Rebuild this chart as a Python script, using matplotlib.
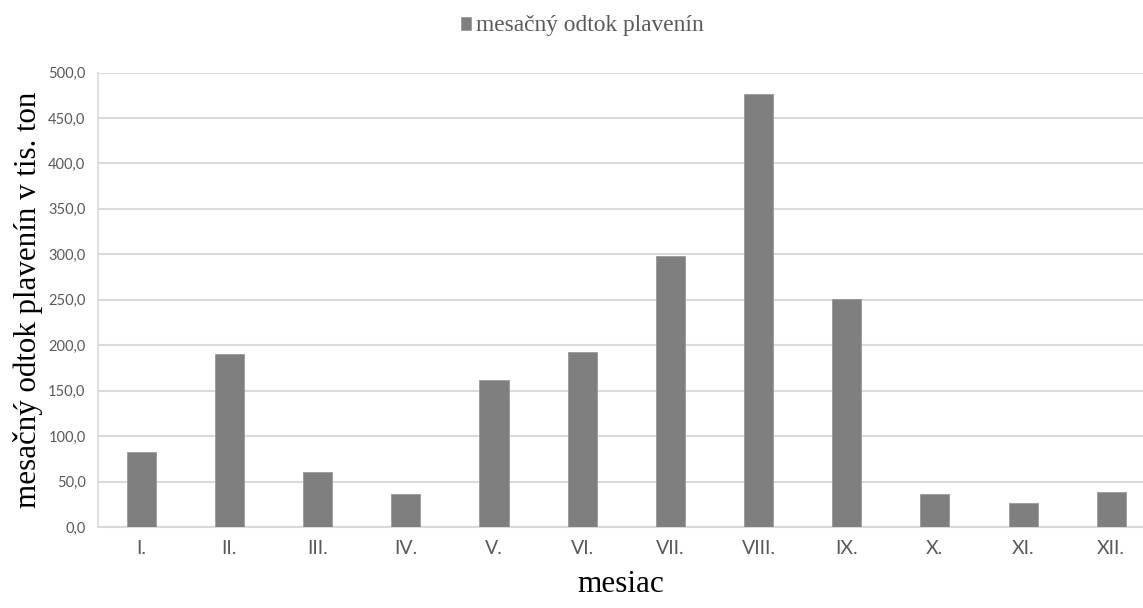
import matplotlib
matplotlib.use("Agg")
import matplotlib.pyplot as plt
from matplotlib.ticker import FuncFormatter
from matplotlib.patches import Patch

months = ["I.", "II.", "III.", "IV.", "V.", "VI.", "VII.", "VIII.", "IX.", "X.", "XI.", "XII."]
sediment = [82, 190, 61, 36, 162, 193, 298, 476, 251, 36, 26, 39]
y_ticks = [0, 50, 100, 150, 200, 250, 300, 350, 400, 450, 500]
series_name = "mesačný odtok plavenín"
y_title = "mesačný odtok plavenín v tis. ton"
x_title = "mesiac"

bar_color = "#7f7f7f"
grid_color = "#d9d9d9"
text_gray = "#595959"
serif = ["Liberation Serif", "DejaVu Serif"]
sans = ["Lato", "DejaVu Sans"]

fig = plt.figure(figsize=(11.43, 6.08), dpi=100)
ax = fig.add_axes([98 / 1143, (608 - 527) / 608, 1 - 98 / 1143, (527 - 72.5) / 608])

x = list(range(len(months)))
ax.bar(x, sediment, width=0.33, color=bar_color, edgecolor="#9a9a9a", linewidth=0.6, zorder=3)

ax.set_ylim(0, 500)
ax.set_xlim(-0.49, 11.36)
ax.set_yticks(y_ticks)
ax.yaxis.set_major_formatter(FuncFormatter(lambda v, p: f"{v:.1f}".replace(".", ",")))
ax.set_xticks(x)
ax.set_xticklabels(months)

ax.grid(axis="y", color=grid_color, linewidth=1.5, zorder=0)
ax.set_axisbelow(True)
for side in ("top", "right"):
    ax.spines[side].set_visible(False)
ax.spines["left"].set_color(grid_color)
ax.spines["left"].set_linewidth(1.2)
ax.spines["bottom"].set_color(grid_color)
ax.spines["bottom"].set_linewidth(1.5)

ax.tick_params(axis="y", length=0, pad=9, labelsize=10.5, labelcolor=text_gray)
ax.tick_params(axis="x", length=0, pad=9, labelsize=14, labelcolor=text_gray)
for lbl in ax.get_yticklabels() + ax.get_xticklabels():
    lbl.set_family(sans)

ax.set_ylabel(y_title, family=serif, fontsize=22.3, color="black", labelpad=4)
ax.set_xlabel(x_title, family=serif, fontsize=22.5, color="black", labelpad=10)

handle = Patch(facecolor=bar_color, edgecolor="#9a9a9a", linewidth=0.6)
fig.legend([handle], [series_name], loc="center", bbox_to_anchor=(582 / 1143, 1 - 26 / 608),
           frameon=False, prop={"family": serif, "size": 16.8}, labelcolor=text_gray,
           handlelength=0.45, handleheight=0.5, handletextpad=0.2)

fig.savefig("out.png", dpi=100)
